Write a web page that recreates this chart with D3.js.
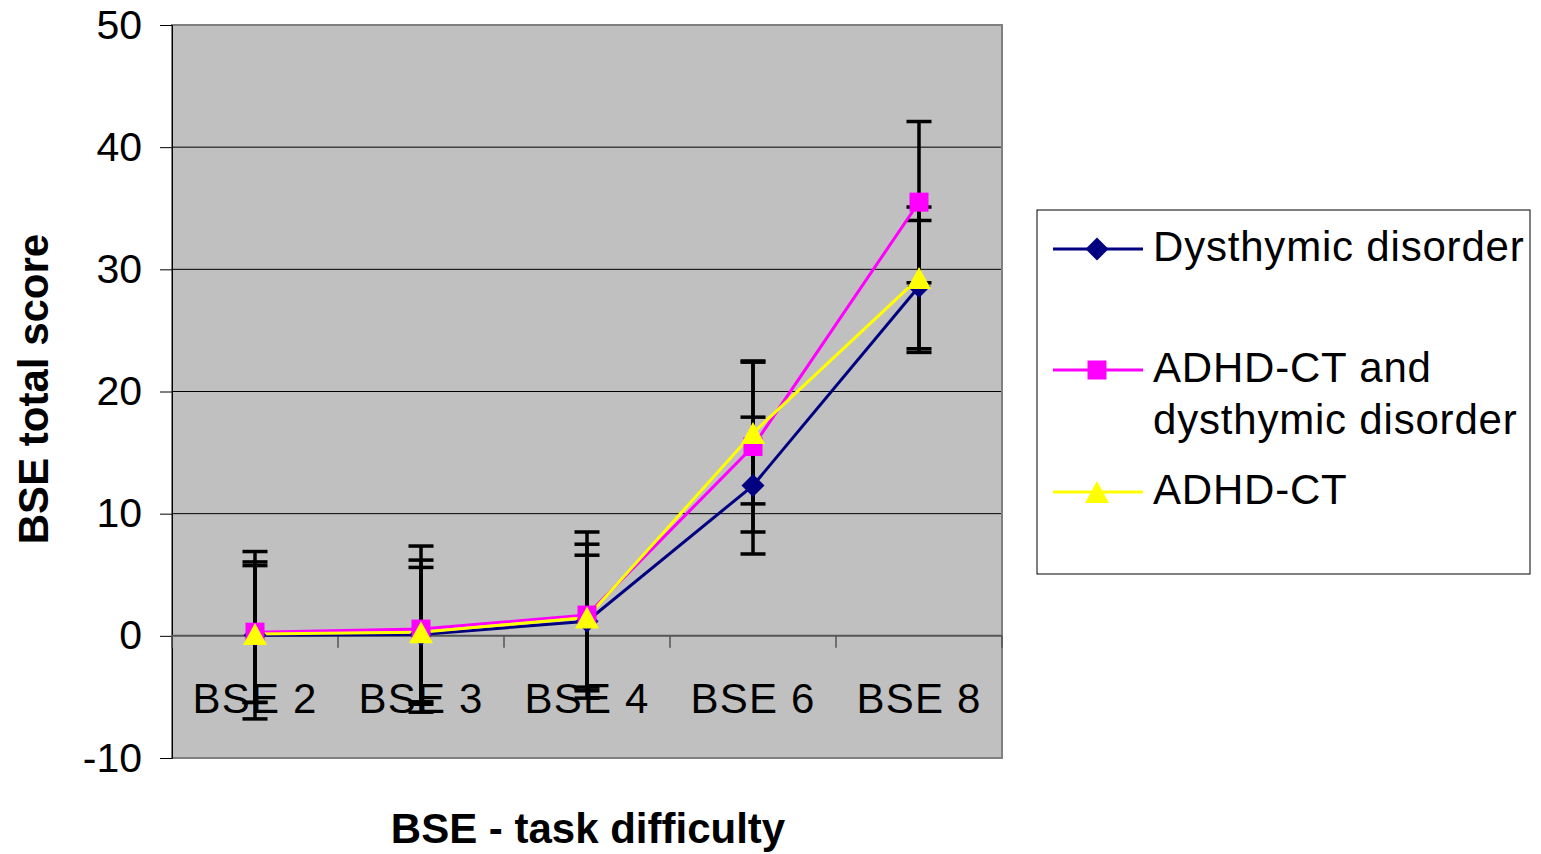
<!DOCTYPE html>
<html lang="en">
  <meta charset="utf-8">
  <style>
    body { margin: 0; background: #fff; }
    svg { display: block; font-family: Arial, "Liberation Sans", sans-serif; }
  </style>
  <body>
    <svg width="1541" height="854"></svg>

    <script src="https://d3js.org/d3.v7.min.js"></script>
    <script>
    let categories = ['BSE 2', 'BSE 3', 'BSE 4', 'BSE 6', 'BSE 8']
    let yTicks = [-10, 0, 10, 20, 30, 40, 50]

    // means and +/- error for each group
    let dysMean = [0.05, 0.1, 1.2, 12.3, 28.6]
    let dysErr = [6.85, 5.5, 5.4, 5.6, 5.4]
    let comorbidMean = [0.3, 0.55, 1.7, 15.5, 35.5]
    let comorbidErr = [5.75, 6.8, 6.8, 7.0, 6.6]
    let adhdMean = [0.15, 0.3, 1.5, 16.6, 29.3]
    let adhdErr = [5.6, 5.9, 6.0, 5.8, 5.8]

    let seriesNames = ['Dysthymic disorder', 'ADHD-CT and|dysthymic disorder', 'ADHD-CT']

    // excel-like marker shapes (size = box width in px)
    let diamond = { draw(ctx, s) { let r = s / 2; ctx.moveTo(0, -r); ctx.lineTo(r, 0); ctx.lineTo(0, r); ctx.lineTo(-r, 0); ctx.closePath() } }
    let square = { draw(ctx, s) { let r = s / 2; ctx.rect(-r, -r, s, s) } }
    let triangle = { draw(ctx, s) { let r = s / 2; ctx.moveTo(0, -r); ctx.lineTo(r + 1, r); ctx.lineTo(-r - 1, r); ctx.closePath() } }

    let series = [
      { name: seriesNames[0], mean: dysMean, err: dysErr, color: '#000080', symbol: diamond, size: 23 },
      { name: seriesNames[1], mean: comorbidMean, err: comorbidErr, color: '#ff00ff', symbol: square, size: 19 },
      { name: seriesNames[2], mean: adhdMean, err: adhdErr, color: '#ffff00', symbol: triangle, size: 22 }
    ]

    let x = d3.scaleBand()
              .domain(categories)
              .range([172, 1002])
    let cx = c => x(c) + x.bandwidth() / 2

    let y = d3.scaleLinear()
              .domain([-10, 50])
              .range([758, 25])

    let svg = d3.select('svg')

    // plot area
    svg.append('rect')
       .attr('x', 172).attr('y', 25)
       .attr('width', 830).attr('height', 733)
       .attr('fill', '#c0c0c0')

    // gridlines
    svg.append('g').selectAll('line')
       .data(yTicks.filter(t => t > 0 && t < 50)).enter()
       .append('line')
       .attr('x1', 172).attr('x2', 1002)
       .attr('y1', d => y(d)).attr('y2', d => y(d))
       .attr('stroke', '#000').attr('stroke-width', 1)

    svg.append('rect')
       .attr('x', 172).attr('y', 25)
       .attr('width', 830).attr('height', 733)
       .attr('fill', 'none')
       .attr('stroke', '#808080').attr('stroke-width', 2)

    // y axis
    let yAxis = svg.append('g')
       .attr('transform', 'translate(172,0)')
       .call(d3.axisLeft(y).tickValues(yTicks).tickFormat(d => String(d)).tickSize(12).tickPadding(18))
    yAxis.select('.domain').attr('stroke', '#000').attr('stroke-width', 1)
    yAxis.selectAll('.tick line').attr('stroke', '#000')
    yAxis.selectAll('text').attr('font-size', 41).attr('fill', '#000')
         .attr('font-family', 'Arial, "Liberation Sans", sans-serif')

    // x axis at zero
    let xAxis = svg.append('g')
       .attr('transform', `translate(0,${y(0)})`)
    xAxis.append('line')
       .attr('x1', 172).attr('x2', 1002)
       .attr('stroke', '#555').attr('stroke-width', 2)
    xAxis.selectAll('.tk')
       .data(categories.concat(['end'])).enter()
       .append('line')
       .attr('x1', (d, i) => 172 + i * x.bandwidth())
       .attr('x2', (d, i) => 172 + i * x.bandwidth())
       .attr('y1', 0).attr('y2', 12)
       .attr('stroke', '#555').attr('stroke-width', 1.5)
    xAxis.selectAll('text')
       .data(categories).enter()
       .append('text')
       .attr('x', d => cx(d))
       .attr('y', 77)
       .attr('text-anchor', 'middle')
       .attr('font-size', 42)
       .attr('letter-spacing', 1.2)
       .text(d => d)

    // error bars
    let eb = svg.append('g').attr('stroke', '#000').attr('stroke-width', 3.5)
    series.forEach(s => {
      categories.forEach((c, i) => {
        let lo = y(s.mean[i] - s.err[i]), hi = y(s.mean[i] + s.err[i])
        eb.append('line').attr('x1', cx(c)).attr('x2', cx(c)).attr('y1', lo).attr('y2', hi)
        eb.append('line').attr('x1', cx(c) - 12.5).attr('x2', cx(c) + 12.5).attr('y1', lo).attr('y2', lo)
        eb.append('line').attr('x1', cx(c) - 12.5).attr('x2', cx(c) + 12.5).attr('y1', hi).attr('y2', hi)
      })
    })

    // lines
    let line = d3.line()
                 .x((d, i) => cx(categories[i]))
                 .y(d => y(d))
    series.forEach(s => {
      svg.append('path')
         .attr('d', line(s.mean))
         .attr('fill', 'none')
         .attr('stroke', s.color)
         .attr('stroke-width', 3)
    })

    // markers
    series.forEach(s => {
      svg.append('g').selectAll('path')
         .data(s.mean).enter()
         .append('path')
         .attr('d', d3.symbol().type(s.symbol).size(s.size))
         .attr('transform', (d, i) => `translate(${cx(categories[i])},${y(d)})`)
         .attr('fill', s.color)
    })

    // axis titles
    svg.append('text')
       .attr('x', 588).attr('y', 843)
       .attr('text-anchor', 'middle')
       .attr('font-size', 42).attr('font-weight', 'bold')
       .text('BSE - task difficulty')
    svg.append('text')
       .attr('transform', 'translate(48,389) rotate(-90)')
       .attr('text-anchor', 'middle')
       .attr('font-size', 42).attr('font-weight', 'bold')
       .text('BSE total score')

    // legend
    let legend = svg.append('g')
    legend.append('rect')
       .attr('x', 1037).attr('y', 210)
       .attr('width', 493).attr('height', 364)
       .attr('fill', '#fff').attr('stroke', '#000').attr('stroke-width', 1)
    let legendY = [249, 370, 492]
    series.forEach((s, i) => {
      let g = legend.append('g').attr('transform', `translate(0,${legendY[i]})`)
      g.append('line').attr('x1', 1053).attr('x2', 1143)
       .attr('stroke', s.color).attr('stroke-width', 3)
      g.append('path')
       .attr('d', d3.symbol().type(s.symbol).size(s.size))
       .attr('transform', 'translate(1097,0)')
       .attr('fill', s.color)
      s.name.split('|').forEach((t, j) => {
        g.append('text')
         .attr('x', 1153).attr('y', 12 + j * 52)
         .attr('font-size', 42)
         .attr('letter-spacing', 0.8)
         .text(t)
      })
    })
    </script>
</body>
</html>
